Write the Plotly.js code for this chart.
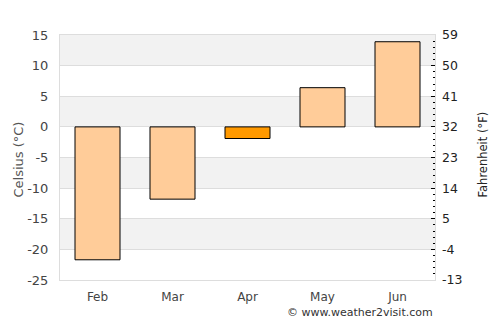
<!DOCTYPE html>
<html><head><meta charset="utf-8">
<script src="https://cdn.plot.ly/plotly-3.0.1.min.js"></script>
<style>html,body{margin:0;padding:0;background:#fff}#c{width:500px;height:325px}</style>
</head><body><div id="c"></div>
<script>
const months = ["Feb", "Mar", "Apr", "May", "Jun"];
const celsius = [-21.7, -11.8, -1.9, 6.4, 13.9];
const barColors = ["#FFCC99", "#FFCC99", "#FF9900", "#FFCC99", "#FFCC99"];
const cTicks = [15, 10, 5, 0, -5, -10, -15, -20, -25];
const fTicks = [59, 50, 41, 32, 23, 14, 5, -4, -13];
const grayBands = [[10, 15], [0, 5], [-10, -5], [-20, -15]];

const FF = "DejaVu Sans";
const shapes = grayBands.map(b => ({type: "rect", xref: "paper", yref: "y", x0: 0, x1: 1, y0: b[0], y1: b[1], fillcolor: "#f2f2f2", line: {width: 0}, layer: "below"}));

Plotly.newPlot("c", [
  {type: "bar", x: months, y: celsius, width: 0.6, marker: {color: barColors, line: {color: "#000", width: 1}}, hoverinfo: "none"},
  {type: "scatter", x: months.slice(0,1), y: fTicks.slice(0,1), yaxis: "y2", mode: "none", showlegend: false, hoverinfo: "none"}
], {
  width: 500, height: 325,
  margin: {l: 60, r: 65, t: 35, b: 45},
  paper_bgcolor: "#fff", plot_bgcolor: "rgba(0,0,0,0)",
  showlegend: false,
  font: {family: FF, size: 12, color: "#444"},
  shapes: shapes,
  xaxis: {type: "category", range: [-0.5, 4.5], showgrid: false, showline: true, mirror: true, linecolor: "#ddd", linewidth: 1, ticks: "", ticklabelstandoff: 6, tickfont: {family: FF, size: 12, color: "#444"}, fixedrange: true, zeroline: false},
  yaxis: {range: [-25, 15], tickvals: cTicks, ticktext: cTicks.map(String), showgrid: true, gridcolor: "#ddd", gridwidth: 1, zeroline: false, showline: true, mirror: true, linecolor: "#ddd", ticks: "", tickfont: {family: FF, size: 13, color: "#444"}, ticklabelstandoff: 8},
  yaxis2: {overlaying: "y", side: "right", range: [-13, 59], tickvals: fTicks, ticktext: fTicks.map(String), showgrid: false, zeroline: false, showline: false, ticks: "inside", ticklen: 4, tickwidth: 1, tickcolor: "#000",
    minor: {tick0: -13, dtick: 1.8, ticks: "inside", ticklen: 2, tickwidth: 1, tickcolor: "#000", showgrid: false},
    tickfont: {family: FF, size: 12.5, color: "#222"}, ticklabelstandoff: 6},
  annotations: [
    {text: "Celsius (°C)", textangle: -90, xref: "paper", yref: "paper", x: 0, y: 0.5, xshift: -42, yshift: -2, xanchor: "center", yanchor: "middle", showarrow: false, font: {family: FF, size: 13, color: "#555"}},
    {text: "Fahrenheit (°F)", textangle: -90, xref: "paper", yref: "paper", x: 1, y: 0.5, xshift: 47, yshift: 3, xanchor: "center", yanchor: "middle", showarrow: false, font: {family: FF, size: 11.5, color: "#222"}},
    {text: "© www.weather2visit.com", xref: "paper", yref: "paper", x: 1, y: 0, yshift: -32, xanchor: "right", yanchor: "middle", showarrow: false, font: {family: FF, size: 11, color: "#333"}}
  ]
}, {staticPlot: true});
</script></body></html>
